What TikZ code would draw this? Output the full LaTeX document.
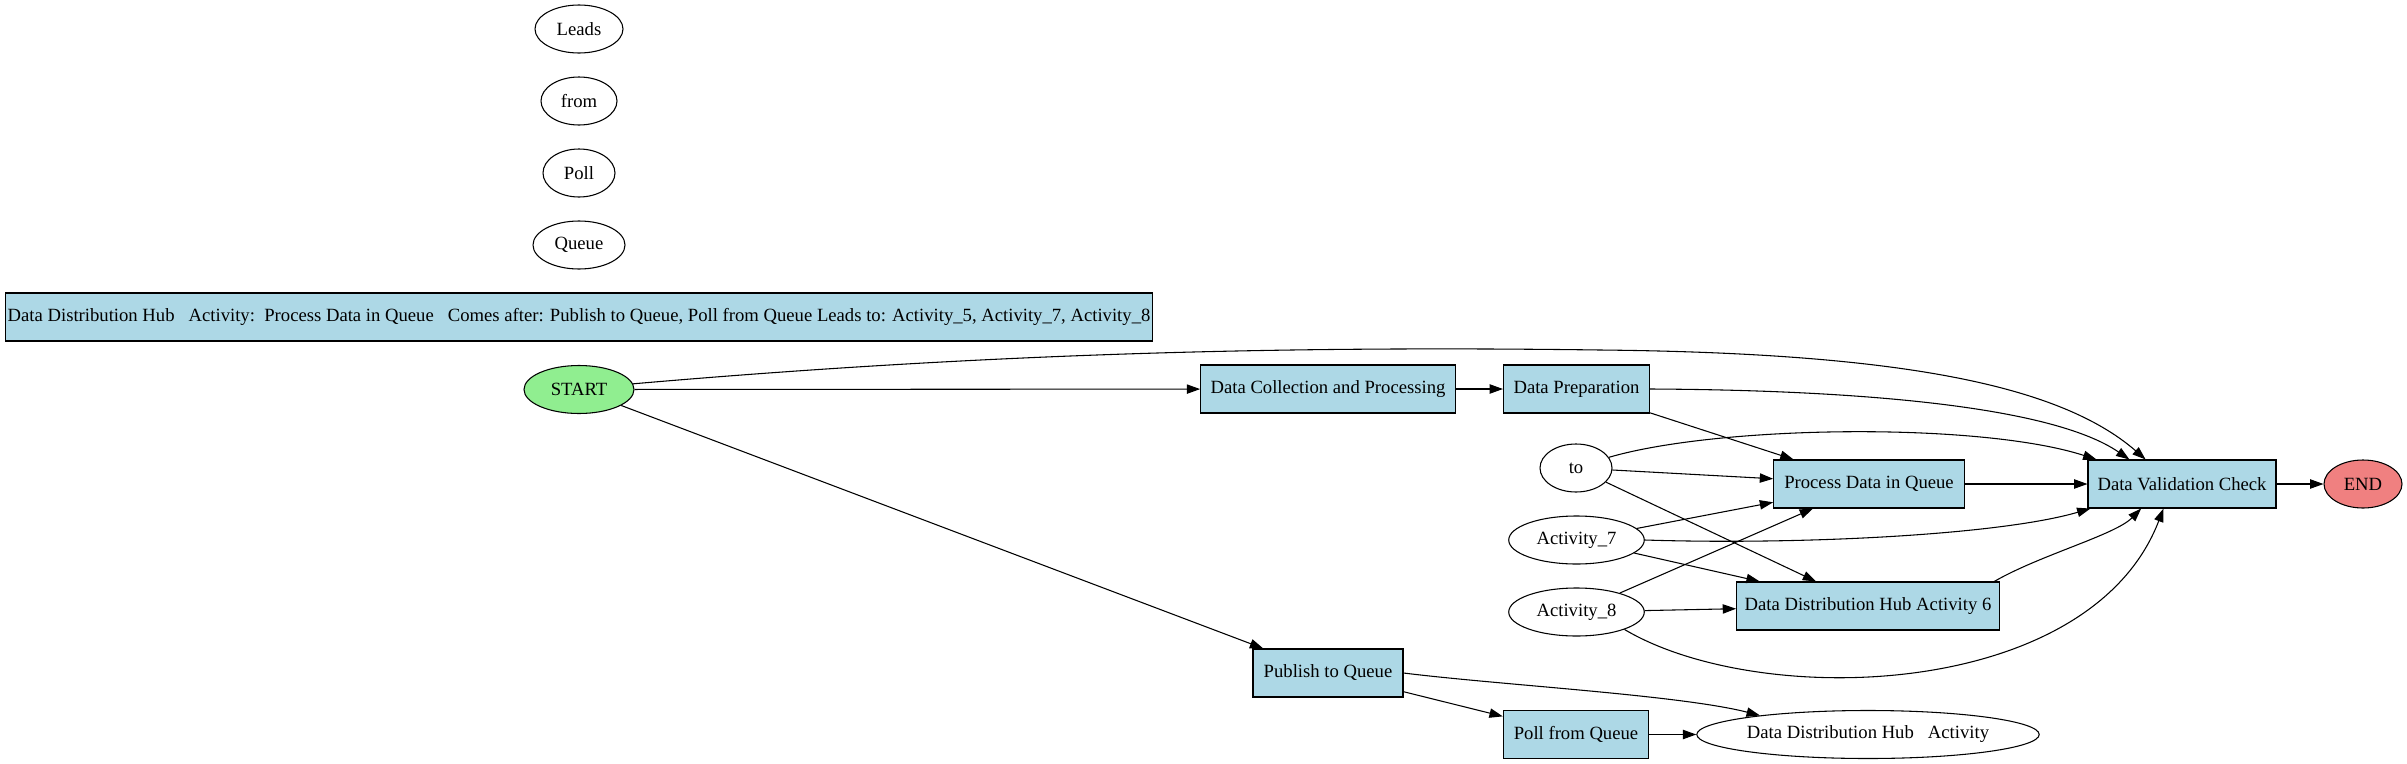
\documentclass[tikz,border=0pt]{standalone}
\usepackage{fontspec}
\setmainfont{Liberation Serif}
\usetikzlibrary{arrows.meta,shapes.geometric}
\definecolor{actblue}{HTML}{ADD8E6}
\definecolor{startgreen}{HTML}{90EE90}
\definecolor{endred}{HTML}{F08080}

\begin{document}
\begin{tikzpicture}[x=0.75pt, y=-0.75pt,
        every node/.style={font=\fontsize{14}{16}\selectfont, draw, line width=0.8pt, minimum height=36pt, inner xsep=6pt},
        act/.style={rectangle, fill=actblue},
        word/.style={ellipse, minimum width=54pt},
        link/.style={-{Triangle[length=10pt,width=7pt]}, line width=0.8pt}]
        \useasboundingbox (0,0) rectangle (2407,764);
        \node[word, minimum width=66pt] (leads) at (579,29) {Leads};
        \node[word, minimum width=57pt] (from) at (579,101) {from};
        \node[word] (poll) at (579,173) {Poll};
        \node[word, minimum width=69pt] (queue) at (579,245) {Queue};
        \node[act, minimum width=860pt, inner xsep=1pt] (hub) at (579,317) {Data Distribution Hub~~~Activity:~~Process Data in Queue~~~Comes after: Publish to Queue, Poll from Queue Leads to: Activity\_5, Activity\_7, Activity\_8};
        \node[word, fill=startgreen, minimum width=82.5pt] (start) at (579,389.5) {START};
        \node[act, minimum width=191pt] (collect) at (1328,389) {Data Collection and Processing};
        \node[act, minimum width=109.5pt] (prep) at (1576.5,389) {Data Preparation};
        \node[word] (towd) at (1576,468) {to};
        \node[act, minimum width=143pt] (process) at (1869,484) {Process Data in Queue};
        \node[act, minimum width=141pt] (check) at (2182,484) {Data Validation Check};
        \node[word, fill=endred, minimum width=58.5pt] (finish) at (2363,484) {END};
        \node[word, minimum width=97.5pt] (act7) at (1576.5,540) {Activity\_7};
        \node[word, minimum width=97.5pt] (act8) at (1576.5,612) {Activity\_8};
        \node[act, minimum width=196pt] (hub6) at (1868,606) {Data Distribution Hub Activity 6};
        \node[act, minimum width=112.5pt] (publish) at (1328,673) {Publish to Queue};
        \node[act, minimum width=109pt] (pollq) at (1576,734.5) {Poll from Queue};
        \node[word, minimum width=256.5pt, inner xsep=0pt] (hubact) at (1868,734.5) {Data Distribution Hub~~~Activity};
        \draw[link] (start) -- (collect);
        \draw[link] (collect) -- (prep);
        \draw[link] (prep) -- (process);
        \draw[link] (towd) -- (process);
        \draw[link] (towd) -- (hub6);
        \draw[link] (act7) -- (process);
        \draw[link] (act7) -- (hub6);
        \draw[link] (act8) -- (process);
        \draw[link] (act8) -- (hub6);
        \draw[link] (process) -- (check);
        \draw[link] (check) -- (finish);
        \draw[link] (start) -- (publish);
        \draw[link] (publish) -- (pollq);
        \draw[link] (pollq) -- (hubact);
        \draw[link] (start.6) .. controls (1000,352) and (1300,346) .. (1600,350) .. controls (1900,353) and (2060,385) .. (check.146);
        \draw[link] (prep.east) .. controls (1850,390) and (2050,405) .. (check.155);
        \draw[link] (towd.18) .. controls (1720,425) and (1980,422) .. (check.164);
        \draw[link] (act7.east) .. controls (1800,545) and (2000,535) .. (check.195);
        \draw[link] (act8.-20) .. controls (1760,710) and (2090,700) .. (check.233);
        \draw[link] (hub6.11) .. controls (2040,555) and (2115,535) .. (check.211);
        \draw[link] (publish.east) .. controls (1500,685) and (1680,695) .. (hubact.170);
    \end{tikzpicture}
\end{document}
